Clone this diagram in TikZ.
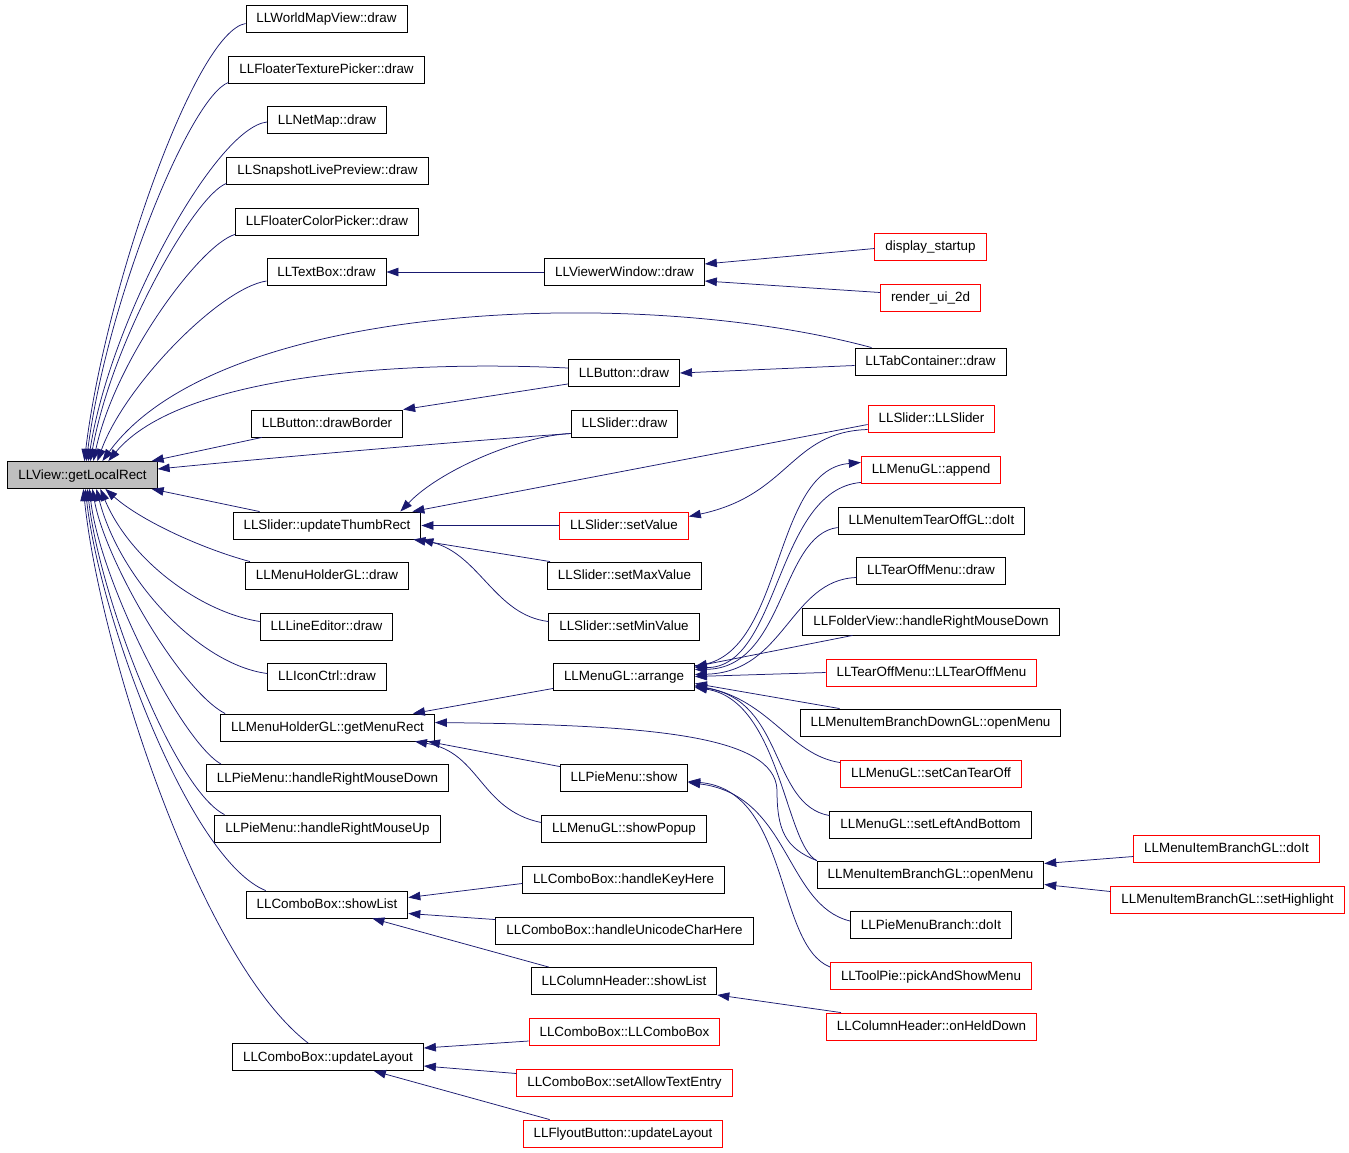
\documentclass[tikz,border=0pt]{standalone}
\usepackage{fontspec}
\setmainfont{Liberation Sans}
\usetikzlibrary{arrows.meta,calc,shapes}
\definecolor{edgeblue}{RGB}{25,25,112}
\definecolor{rootgray}{RGB}{191,191,191}

\begin{document}
\begin{tikzpicture}[x=1pt,y=-1pt,
  >={Triangle[length=12pt,width=8.5pt]},
  fn/.style={rectangle,draw=black,line width=0.9pt,fill=white,
    font=\fontsize{13.4}{16}\selectfont,inner xsep=10.5pt,inner ysep=0pt,
    minimum height=27pt,text height=9.6pt,text depth=1.2pt},
  fnred/.style={fn,draw=red},
  fnroot/.style={fn,fill=rootgray},
  call/.style={->,edgeblue,line width=0.75pt}]

  % Canvas
  \fill[white] (0,0) rectangle (1349,1152);
  \useasboundingbox (0,0) rectangle (1349,1152);

  % Root
  \node[fnroot] (glr) at (82.5,475) {LLView::getLocalRect};

  % First column of callers
  \node[fn] (wmv) at (326.5,18.5) {LLWorldMapView::draw};
  \node[fn] (ftp) at (326.5,69.5) {LLFloaterTexturePicker::draw};
  \node[fn] (nmap) at (327,120) {LLNetMap::draw};
  \node[fn] (slp) at (327.5,170.5) {LLSnapshotLivePreview::draw};
  \node[fn] (fcp) at (327,221.5) {LLFloaterColorPicker::draw};
  \node[fn] (tbox) at (326.5,272) {LLTextBox::draw};
  \node[fn] (bdb) at (327,423.5) {LLButton::drawBorder};
  \node[fn] (utr) at (327,525.5) {LLSlider::updateThumbRect};
  \node[fn] (mhd) at (327,575.5) {LLMenuHolderGL::draw};
  \node[fn] (led) at (326.5,626.5) {LLLineEditor::draw};
  \node[fn] (icon) at (327,676.5) {LLIconCtrl::draw};
  \node[fn] (gmr) at (327.5,727.5) {LLMenuHolderGL::getMenuRect};
  \node[fn] (prmd) at (327.5,778) {LLPieMenu::handleRightMouseDown};
  \node[fn] (prmu) at (327.5,828.5) {LLPieMenu::handleRightMouseUp};
  \node[fn] (cbsl) at (327,904.5) {LLComboBox::showList};
  \node[fn] (cbul) at (328,1057) {LLComboBox::updateLayout};

  % Second column
  \node[fn] (vwd) at (624.5,272) {LLViewerWindow::draw};
  \node[fn] (bdr) at (624,373) {LLButton::draw};
  \node[fn] (sdr) at (624.5,423.5) {LLSlider::draw};
  \node[fnred] (ssv) at (624,525.5) {LLSlider::setValue};
  \node[fn] (smax) at (624.5,575.5) {LLSlider::setMaxValue};
  \node[fn] (smin) at (624,626.5) {LLSlider::setMinValue};
  \node[fn] (arr) at (624,676.5) {LLMenuGL::arrange};
  \node[fn] (pms) at (624,777.5) {LLPieMenu::show};
  \node[fn] (msp) at (624,828.5) {LLMenuGL::showPopup};
  \node[fn] (hkh) at (623.5,879.5) {LLComboBox::handleKeyHere};
  \node[fn] (huc) at (624.5,930.5) {LLComboBox::handleUnicodeCharHere};
  \node[fn] (chsl) at (624,981) {LLColumnHeader::showList};
  \node[fnred] (cbcb) at (624.5,1032) {LLComboBox::LLComboBox};
  \node[fnred] (ate) at (624.5,1082.5) {LLComboBox::setAllowTextEntry};
  \node[fnred] (fbul) at (623,1133.5) {LLFlyoutButton::updateLayout};

  % Third column
  \node[fnred] (dsu) at (930.5,246.5) {display\_startup};
  \node[fnred] (rui) at (930.5,297.5) {render\_ui\_2d};
  \node[fn] (tcd) at (930.5,361.5) {LLTabContainer::draw};
  \node[fnred] (sll) at (931.5,418.5) {LLSlider::LLSlider};
  \node[fnred] (app) at (931,469.5) {LLMenuGL::append};
  \node[fn] (togl) at (931.5,520.5) {LLMenuItemTearOffGL::doIt};
  \node[fn] (tomd) at (931,570.5) {LLTearOffMenu::draw};
  \node[fn] (fvr) at (931,621.5) {LLFolderView::handleRightMouseDown};
  \node[fnred] (tom) at (931.5,672.5) {LLTearOffMenu::LLTearOffMenu};
  \node[fn] (bdgl) at (930.5,722.5) {LLMenuItemBranchDownGL::openMenu};
  \node[fnred] (sct) at (931,773.5) {LLMenuGL::setCanTearOff};
  \node[fn] (slb) at (930.5,824.5) {LLMenuGL::setLeftAndBottom};
  \node[fn] (bgl) at (930.5,874.5) {LLMenuItemBranchGL::openMenu};
  \node[fn] (pmb) at (931,925) {LLPieMenuBranch::doIt};
  \node[fnred] (tpm) at (931,976) {LLToolPie::pickAndShowMenu};
  \node[fnred] (chd) at (931.5,1026.5) {LLColumnHeader::onHeldDown};

  % Fourth column
  \node[fnred] (bgd) at (1226.5,848.5) {LLMenuItemBranchGL::doIt};
  \node[fnred] (bgh) at (1227.5,899.5) {LLMenuItemBranchGL::setHighlight};

  % Calls into getLocalRect, from above
  \draw[call] ($(wmv.west)+(0,5)$) .. controls (195,32) and (105,290) .. ($(glr.north west)+(77,0)$);
  \draw[call] ($(ftp.south west)+(0,-1)$) .. controls (190,97) and (107,300) .. ($(glr.north west)+(79,0)$);
  \draw[call] ($(nmap.west)+(0,2)$) .. controls (215,128) and (110,320) .. ($(glr.north west)+(81,0)$);
  \draw[call] ($(slp.south west)+(0,-1)$) .. controls (195,195) and (112,340) .. ($(glr.north west)+(83,0)$);
  \draw[call] ($(fcp.south west)+(0,-1)$) .. controls (200,245) and (115,360) .. ($(glr.north west)+(86,0)$);
  \draw[call] ($(tbox.west)+(0,9)$) .. controls (220,288) and (125,385) .. ($(glr.north west)+(90,0)$);
  \draw[call] ($(tcd.north west)+(17,0)$) .. controls (640,285) and (220,300) .. ($(glr.north west)+(95,0)$);
  \draw[call] ($(bdr.west)+(0,-5)$) .. controls (400,360) and (180,375) .. ($(glr.north west)+(101,0)$);
  \draw[call] ($(bdb.south west)+(11,0)$) -- ($(glr.north east)+(-6,0)$);
  \draw[call] ($(sdr.west)+(0,10)$) .. controls (480,440) and (300,455) .. ($(glr.east)+(0,-6)$);

  % Calls into getLocalRect, from below
  \draw[call] ($(utr.north west)+(27,0)$) -- ($(glr.south east)+(-6,0)$);
  \draw[call] ($(mhd.north west)+(5,0)$) .. controls (200,548) and (140,520) .. ($(glr.south west)+(98,0)$);
  \draw[call] ($(led.west)+(0,-5)$) .. controls (200,612) and (130,560) .. ($(glr.south west)+(93,0)$);
  \draw[call] ($(icon.west)+(0,-3)$) .. controls (200,665) and (120,580) .. ($(glr.south west)+(89,0)$);
  \draw[call] ($(gmr.north west)+(5,0)$) .. controls (180,690) and (105,560) .. ($(glr.south west)+(85,0)$);
  \draw[call] ($(prmd.north west)+(15,0)$) .. controls (180,740) and (100,580) .. ($(glr.south west)+(82,0)$);
  \draw[call] ($(prmu.north west)+(10,0)$) .. controls (175,790) and (100,600) .. ($(glr.south west)+(80,0)$);
  \draw[call] ($(cbsl.north west)+(20,0)$) .. controls (190,860) and (100,620) .. ($(glr.south west)+(78,0)$);
  \draw[call] ($(cbul.north west)+(76,0)$) .. controls (200,960) and (100,650) .. ($(glr.south west)+(76,0)$);

  % Draw calls
  \draw[call] (vwd.west) -- (tbox.east);
  \draw[call] ($(dsu.west)+(0,2)$) -- ($(vwd.east)+(0,-8)$);
  \draw[call] ($(rui.west)+(0,-5)$) -- ($(vwd.east)+(0,9)$);
  \draw[call] ($(tcd.west)+(0,4)$) -- (bdr.east);
  \draw[call] ($(bdr.south west)+(0,-3)$) -- (bdb.north east);

  % Slider
  \draw[call] ($(sdr.west)+(0,10)$) .. controls (520,436) and (440,470) .. ($(utr.north east)+(-21,0)$);
  \draw[call] ($(sll.west)+(0,6)$) -- ($(utr.north east)+(-9,0)$);
  \draw[call] ($(sll.west)+(0,11)$) .. controls (790,432) and (790,495) .. ($(ssv.east)+(0,-9)$);
  \draw[call] (ssv.west) -- (utr.east);
  \draw[call] ($(smax.north west)+(3,0)$) -- ($(utr.south east)+(-8,0)$);
  \draw[call] ($(smin.west)+(0,-5)$) .. controls (495,615) and (480,555) .. (utr.south east);

  % Menu arrange
  \draw[call] ($(app.south west)+(0,-1)$) .. controls (775,490) and (780,668) .. ($(arr.east)+(0,-9)$);
  \draw[call] ($(arr.east)+(0,-11)$) .. controls (785,662) and (770,470) .. ($(app.west)+(0,-7)$);
  \draw[call] ($(togl.west)+(0,7)$) .. controls (780,535) and (785,668) .. ($(arr.east)+(0,-7)$);
  \draw[call] ($(tomd.west)+(0,7)$) .. controls (790,580) and (785,672) .. ($(arr.east)+(0,-2)$);
  \draw[call] ($(fvr.south west)+(50,0)$) -- ($(arr.east)+(0,-10)$);
  \draw[call] (tom.west) -- (arr.east);
  \draw[call] ($(bdgl.north west)+(40,0)$) -- ($(arr.east)+(0,7)$);
  \draw[call] ($(sct.north west)+(0,3)$) .. controls (790,755) and (770,700) .. ($(arr.east)+(0,9)$);
  \draw[call] ($(slb.north west)+(0,5)$) .. controls (770,805) and (785,700) .. ($(arr.east)+(0,10)$);
  \draw[call] (bgl.north west) .. controls (785,845) and (780,700) .. ($(arr.east)+(0,11)$);

  % Menu rect
  \draw[call] (bgl.north west) .. controls (785,848) and (777,830) .. (777,790)
    .. controls (775,735) and (650,725) .. ($(gmr.east)+(0,-5)$);
  \draw[call] ($(arr.south west)+(0,-2)$) -- ($(gmr.north east)+(-22,0)$);
  \draw[call] ($(pms.north west)+(0,3)$) -- ($(gmr.south east)+(-7,0)$);
  \draw[call] ($(msp.west)+(0,-6)$) .. controls (480,810) and (480,752) .. ($(gmr.south east)+(-20,0)$);

  % Pie menu and branch
  \draw[call] ($(tpm.west)+(0,-9)$) .. controls (775,945) and (790,790) .. ($(pms.east)+(0,4)$);
  \draw[call] ($(pmb.west)+(0,-4)$) .. controls (785,905) and (790,795) .. ($(pms.east)+(0,5)$);
  \draw[call] ($(bgd.west)+(0,8)$) -- ($(bgl.east)+(0,-11)$);
  \draw[call] ($(bgh.west)+(0,-8)$) -- ($(bgl.east)+(0,10)$);

  % Combo box
  \draw[call] ($(hkh.west)+(0,4)$) -- ($(cbsl.east)+(0,-7)$);
  \draw[call] ($(huc.north west)+(0,3)$) -- ($(cbsl.east)+(0,9)$);
  \draw[call] ($(chsl.north west)+(18,0)$) -- ($(cbsl.south east)+(-36,0)$);
  \draw[call] ($(chd.north west)+(15,0)$) -- (chsl.south east);
  \draw[call] ($(cbcb.west)+(0,9)$) -- ($(cbul.east)+(0,-9)$);
  \draw[call] ($(ate.west)+(0,-9)$) -- ($(cbul.east)+(0,9)$);
  \draw[call] ($(fbul.north west)+(27,0)$) -- ($(cbul.south east)+(-50,0)$);

\end{tikzpicture}
\end{document}
